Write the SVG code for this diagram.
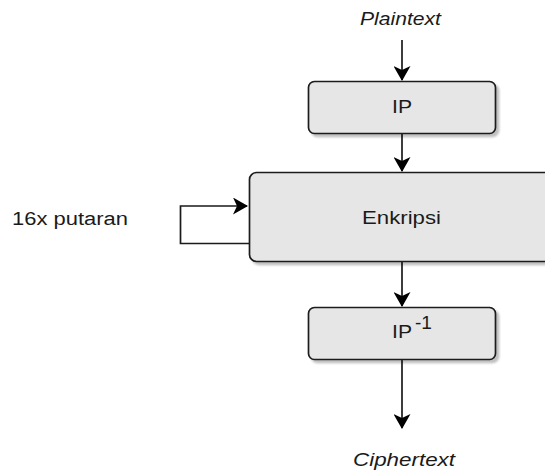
<svg xmlns="http://www.w3.org/2000/svg" width="545" height="471" viewBox="0 0 545 471">
  <style>
    .box { fill: #e6e6e6; stroke: #1a1a1a; stroke-width: 1.7; }
    .lbl { font-family: "Liberation Sans", Arial, sans-serif; font-size: 18px; fill: #1a1a1a; }
    .it { font-style: italic; }
    .edge { fill: none; stroke: #1a1a1a; stroke-width: 1.7; }
  </style>
  <defs>
    <filter id="shadow" x="-10%" y="-10%" width="130%" height="140%">
      <feGaussianBlur in="SourceAlpha" stdDeviation="1"/>
      <feOffset dx="3" dy="3" result="off"/>
      <feComponentTransfer><feFuncA type="linear" slope="0.25"/></feComponentTransfer>
      <feMerge><feMergeNode/><feMergeNode in="SourceGraphic"/></feMerge>
    </filter>
    <marker id="arrow" viewBox="0 0 15 17" refX="14" refY="8.5" markerWidth="15" markerHeight="17" markerUnits="userSpaceOnUse" orient="auto">
      <path d="M0,0 L15,8.5 L0,17 L4,8.5 Z" fill="#000"/>
    </marker>
  </defs>

  <!-- connectors -->
  <g id="connectors">
    <path class="edge" d="M402,40 V80" marker-end="url(#arrow)"/>
    <path class="edge" d="M402,134 V171" marker-end="url(#arrow)"/>
    <path class="edge" d="M249,243.5 H180.5 V206 H247" marker-end="url(#arrow)"/>
    <path class="edge" d="M402,262 V306" marker-end="url(#arrow)"/>
    <path class="edge" d="M402,360 V428" marker-end="url(#arrow)"/>
  </g>

  <g id="plaintext">
    <text class="lbl it" x="360" y="25" textLength="81" lengthAdjust="spacingAndGlyphs">Plaintext</text>
  </g>

  <g id="ip">
    <rect class="box" x="308.5" y="81.5" width="187" height="52" rx="6" filter="url(#shadow)"/>
    <text class="lbl" x="392" y="113" textLength="20" lengthAdjust="spacingAndGlyphs">IP</text>
  </g>

  <g id="enkripsi">
    <rect class="box" x="249.5" y="172.5" width="310" height="89" rx="7" filter="url(#shadow)"/>
    <text class="lbl" x="362" y="224" textLength="79" lengthAdjust="spacingAndGlyphs">Enkripsi</text>
  </g>

  <g id="loop-label">
    <text class="lbl" x="12" y="225" textLength="116" lengthAdjust="spacingAndGlyphs">16x putaran</text>
  </g>

  <g id="ip-inverse">
    <rect class="box" x="308.5" y="307.5" width="187" height="52" rx="6" filter="url(#shadow)"/>
    <text class="lbl" x="392" y="338" textLength="20" lengthAdjust="spacingAndGlyphs">IP</text>
    <text class="lbl" x="415" y="329" font-size="14" textLength="17" lengthAdjust="spacingAndGlyphs">-1</text>
  </g>

  <g id="ciphertext">
    <text class="lbl it" x="353" y="466" textLength="102" lengthAdjust="spacingAndGlyphs">Ciphertext</text>
  </g>
</svg>
